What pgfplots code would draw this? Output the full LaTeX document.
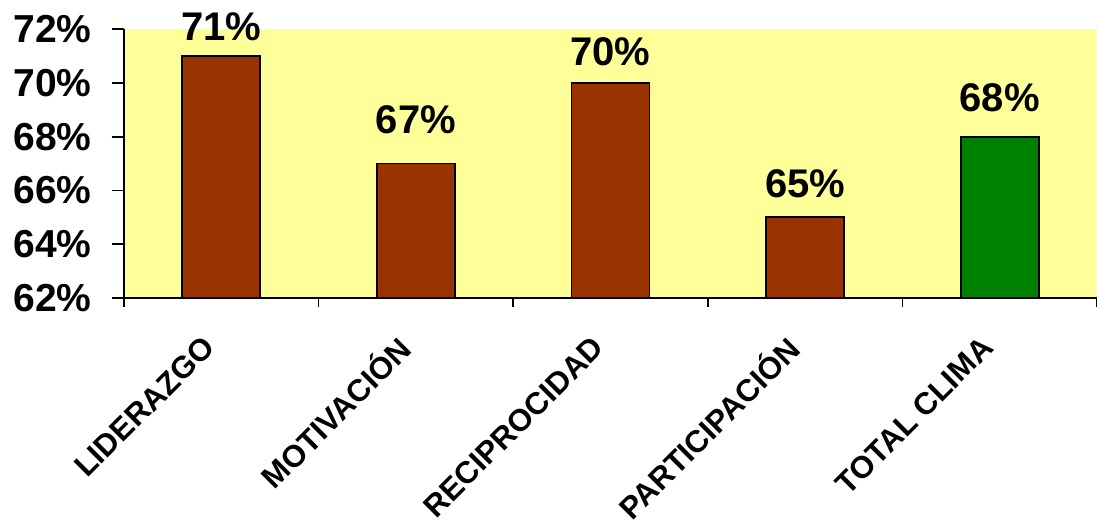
\documentclass[border=0pt]{standalone}
\usepackage{fontspec}
\setmainfont{Liberation Sans}
\usepackage{pgfplots}
\usepackage{pgfplotstable}
\pgfplotsset{compat=1.18}

\definecolor{plotbg}{HTML}{FFFF99}
\definecolor{barbrown}{HTML}{993300}
\definecolor{bargreen}{HTML}{008000}

% dimension scores (%), gap = distance of the value label above the bar (pt)
\pgfplotstableread{
x val gap
0 71 7
1 67 14.5
2 70 8
3 65 9.5
}\dimtable
\pgfplotstableread{
x val gap
4 68 12
}\totaltable

\begin{document}
\begin{tikzpicture}
\begin{axis}[
  scale only axis,
  width=486.5pt, height=134.5pt,
  xmin=-0.5, xmax=4.5, ymin=62, ymax=72,
  axis x line*=bottom, axis y line*=left,
  axis line style={line width=0.9pt, black},
  axis background/.style={fill=plotbg},
  ytick={62,64,...,72},
  yticklabel={\pgfmathprintnumber{\tick}\%},
  xtick={0,...,4},
  xticklabels={LIDERAZGO,MOTIVACIÓN,RECIPROCIDAD,PARTICIPACIÓN,TOTAL CLIMA},
  minor xtick={-0.5,0.5,...,4.5},
  major x tick style={draw=none},
  tick align=outside,
  major tick length=6pt, minor tick length=4.5pt,
  tick style={line width=0.9pt, black},
  /pgf/number format/assume math mode=true,
  y tick label style={font=\bfseries\fontsize{19.5}{19.5}\selectfont, inner sep=0pt, xshift=-10pt},
  x tick label style={font=\bfseries\fontsize{15.5}{15.5}\selectfont, inner sep=0pt,
    xshift=-6pt, yshift=-16pt, rotate=45, anchor=east},
  ybar, bar width=0.4, bar shift=0pt,
  clip=false,
  point meta=y,
  nodes near coords={\pgfmathprintnumber{\pgfplotspointmeta}\%},
  visualization depends on={\thisrow{gap} \as \labelgap},
  every node near coord/.append style={font=\bfseries\fontsize{20}{20}\selectfont,
    inner sep=0pt, anchor=south, black, yshift=\labelgap pt},
]
\addplot[draw=black, line width=0.9pt, fill=barbrown] table[x=x, y=val] {\dimtable};
\addplot[draw=black, line width=0.9pt, fill=bargreen] table[x=x, y=val] {\totaltable};
\coordinate (bl) at (rel axis cs:0,0);
\end{axis}
\pgfresetboundingbox
\path[use as bounding box] (bl) ++(-62pt,-111.5pt) rectangle ++(548.5pt,260.5pt);
\end{tikzpicture}
\end{document}
